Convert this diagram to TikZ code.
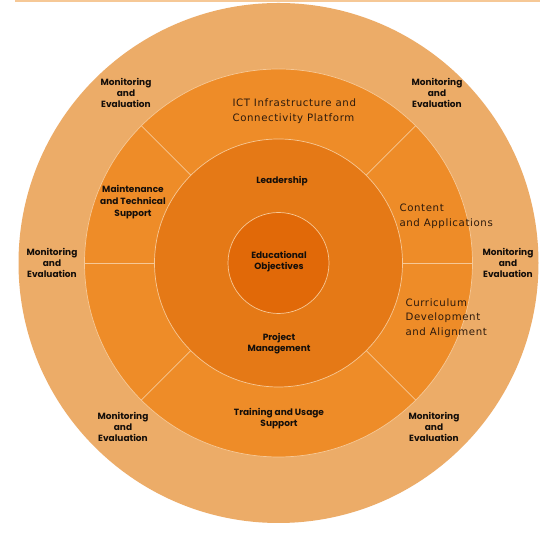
\documentclass[tikz,border=0pt]{standalone}
\usepackage{fontspec}
\setmainfont{Poppins}
\newfontfamily\widefont{DejaVu Sans}[LetterSpace=6.0]
\definecolor{ringout}{RGB}{236,172,104}
\definecolor{ringmid}{RGB}{238,140,40}
\definecolor{ringlead}{RGB}{229,121,22}
\definecolor{ringcore}{RGB}{225,105,8}
\definecolor{sepcol}{RGB}{246,200,150}
\definecolor{txtdark}{RGB}{20,14,10}
\definecolor{txtbrown}{RGB}{45,26,12}
\usetikzlibrary{positioning}
\tikzset{
  melab/.style={font=\fontsize{9}{11}\selectfont\bfseries,text=txtdark,align=center},
  seglab/.style={font=\widefont\fontsize{10.2}{14.8}\selectfont,text=txtbrown,
                 align=left,anchor=west},
  sepline/.style={draw=sepcol,line width=0.7pt},
}
\begin{document}
\begin{tikzpicture}[x=1pt,y=1pt]
    \useasboundingbox (0,0) rectangle (550,545);
    \fill[white] (0,0) rectangle (550,545);
    \draw[sepcol,line width=1.2pt] (15,544) -- (540,544);
    \coordinate (c) at (278.5,282);

    % rings, outside in
    \fill[ringout] (c) circle (260);
    \fill[ringmid] (c) circle (194);
    \draw[sepline] (c) circle (194);
    \fill[ringlead] (c) circle (124);
    \draw[sepline] (c) circle (124);
    \fill[ringcore] (c) circle (50.5);
    \draw[sepline] (c) circle (50.5);

    \foreach \a in {0,45,135,180,225,315}{
      \draw[sepline] ([shift={(\a:124)}]c) -- ([shift={(\a:194)}]c);
    }

    % monitoring and evaluation, outer ring
    \node[melab] (metl) at (126,452) {Monitoring\\and\\Evaluation};
    \node[melab] (metr) at (437,452) {Monitoring\\and\\Evaluation};
    \node[melab] (mel)  at (52,282)  {Monitoring\\and\\Evaluation};
    \node[melab] (mer)  at (508,282) {Monitoring\\and\\Evaluation};
    \node[melab] (mebl) at (123,118) {Monitoring\\and\\Evaluation};
    \node[melab] (mebr) at (434,118) {Monitoring\\and\\Evaluation};

    % middle ring segments
    \node[seglab] (ict) at (229,434) {ICT Infrastructure and\\Connectivity Platform};
    \node[seglab] (cont) at (396,329) {Content\\and Applications};
    \node[seglab] (curr) at (402,227) {Curriculum\\Development\\and Alignment};
    \node[melab,font=\fontsize{9}{12}\selectfont\bfseries] (maint) at (133,343)
         {Maintenance\\and Technical\\Support};
    \node[melab] (train) at (279,126.5) {Training and Usage\\Support};

    % inner rings
    \node[melab] (lead) at (282,364) {Leadership};
    \node[melab] (edu)  at (279,283) {Educational\\Objectives};
    \node[melab] (pm)   at (279,201) {Project\\Management};
\end{tikzpicture}
\end{document}
